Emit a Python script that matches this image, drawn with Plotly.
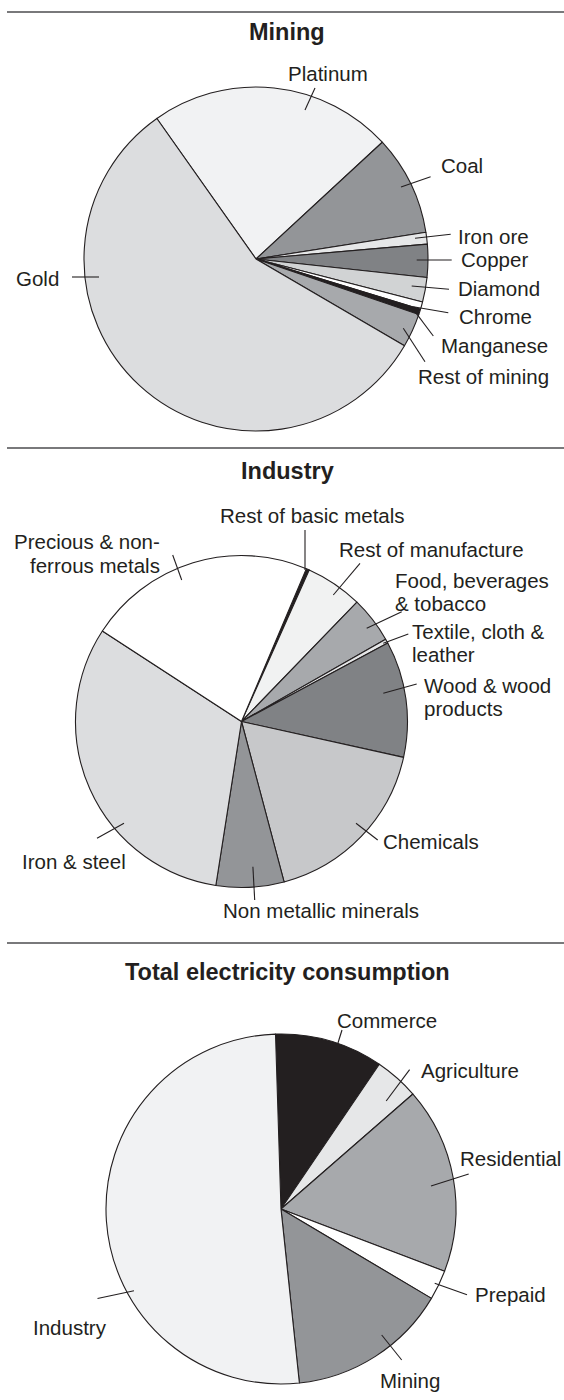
import plotly.graph_objects as go

W, H = 564, 1400

# ---------------- data ----------------
titles = ["Mining", "Industry", "Total electricity consumption"]

mining_labels = ["Platinum", "Coal", "Iron ore", "Copper", "Diamond", "Chrome",
                 "Manganese", "Rest of mining", "Gold"]
mining_values = [22.9, 9.4, 1.1, 3.1, 2.3, 0.7, 0.5, 3.2, 56.8]

industry_labels = ["Rest of basic metals", "Rest of manufacture",
                   "Food, beverages & tobacco", "Textile, cloth & leather",
                   "Wood & wood products", "Chemicals", "Non metallic minerals",
                   "Iron & steel", "Precious & non-ferrous metals"]
industry_values = [0.3, 5.55, 4.5, 0.42, 11.3, 17.4, 6.6, 31.7, 22.2]

elec_labels = ["Commerce", "Agriculture", "Residential", "Prepaid", "Mining", "Industry"]
elec_values = [10.0, 4.1, 17.2, 2.75, 14.8, 51.2]

# ---------------- styles / layout ----------------
mining_colors = ["#f1f2f3", "#939598", "#e6e7e8", "#808285", "#d1d3d4", "#ffffff",
                 "#231f20", "#a7a9ac", "#dcdddf"]
industry_colors = ["#231f20", "#f1f2f2", "#a7a9ac", "#e6e7e8", "#808285", "#c7c8ca",
                   "#939598", "#dcdddf", "#ffffff"]
elec_colors = ["#231f20", "#e6e7e8", "#a7a9ac", "#ffffff", "#939598", "#f1f2f3"]

# pie geometry in pixels: centre x, centre y, radius, start rotation
PIES = [
    dict(labels=mining_labels, values=mining_values, colors=mining_colors,
         cx=256, cy=259, r=172, rot=-35.2),
    dict(labels=industry_labels, values=industry_values, colors=industry_colors,
         cx=241.5, cy=721.5, r=166, rot=23.0),
    dict(labels=elec_labels, values=elec_values, colors=elec_colors,
         cx=281, cy=1209, r=175, rot=-1.8),
]

TITLE_POS = [(287, 32), (287, 471), (287, 972)]
SEPARATORS_Y = [12, 448, 943]

# label text placement (px) and leader line (px)
LABELS = {
    "Platinum": dict(lines=["Platinum"], x=328, y=73, anchor="center", lead=(315, 88, 305, 110)),
    "Coal": dict(lines=["Coal"], x=439, y=166, anchor="left", lead=(430.6, 176.7, 401, 187)),
    "Iron ore": dict(lines=["Iron ore"], x=456, y=236, anchor="left", lead=(450.7, 234.3, 415, 238.3)),
    "Copper": dict(lines=["Copper"], x=459, y=259, anchor="left", lead=(451.7, 260, 416.7, 260)),
    "Diamond": dict(lines=["Diamond"], x=456, y=288, anchor="left", lead=(449, 289.3, 411.7, 286)),
    "Chrome": dict(lines=["Chrome"], x=457, y=316, anchor="left", lead=(448.3, 312.7, 413.3, 306.7)),
    "Manganese": dict(lines=["Manganese"], x=439, y=346, anchor="left", lead=(433.3, 336, 415, 311.7)),
    "Rest of mining": dict(lines=["Rest of mining"], x=416, y=376, anchor="left", lead=(425, 361.7, 403.3, 328.3)),
    "Gold": dict(lines=["Gold"], x=61, y=278, anchor="right", lead=(72, 277, 99, 277)),
}
LABELS_IND = {
    "Rest of basic metals": dict(lines=["Rest of basic metals"], x=312.6, y=515, anchor="center", lead=(305, 530, 305, 570)),
    "Precious & non-ferrous metals": dict(lines=["Precious & non-", "ferrous metals"], x=162, y=541.7, anchor="right", lead=(172.7, 555, 181.7, 580)),
    "Rest of manufacture": dict(lines=["Rest of manufacture"], x=337, y=549, anchor="left", lead=(360, 563.3, 333.3, 595)),
    "Food, beverages & tobacco": dict(lines=["Food, beverages", "& tobacco"], x=393, y=580, anchor="left", lead=(401.7, 611.7, 366.7, 628.3)),
    "Textile, cloth & leather": dict(lines=["Textile, cloth &", "leather"], x=410, y=631, anchor="left", lead=(408.3, 634, 383.3, 643.3)),
    "Wood & wood products": dict(lines=["Wood & wood", "products"], x=422, y=685, anchor="left", lead=(416.7, 684, 383.3, 693.3)),
    "Chemicals": dict(lines=["Chemicals"], x=380.6, y=841.7, anchor="left", lead=(377.7, 840, 356, 823.3)),
    "Non metallic minerals": dict(lines=["Non metallic minerals"], x=221, y=910.7, anchor="left", lead=(254.7, 900, 252.9, 866.7)),
    "Iron & steel": dict(lines=["Iron & steel"], x=19.8, y=861.7, anchor="left", lead=(97, 838.3, 124, 823.3)),
}
LABELS_ELEC = {
    "Commerce": dict(lines=["Commerce"], x=335, y=1020.6, anchor="left", lead=(342, 1030, 337.8, 1043.5)),
    "Agriculture": dict(lines=["Agriculture"], x=418.5, y=1070.4, anchor="left", lead=(409.6, 1069.6, 386.2, 1101)),
    "Residential": dict(lines=["Residential"], x=458, y=1158.6, anchor="left", lead=(468.7, 1173.9, 431, 1186.1)),
    "Prepaid": dict(lines=["Prepaid"], x=473.4, y=1294.7, anchor="left", lead=(467, 1294.7, 434.7, 1283.2)),
    "Mining": dict(lines=["Mining"], x=378, y=1380, anchor="left", lead=(401.7, 1360, 381.7, 1335)),
    "Industry": dict(lines=["Industry"], x=31, y=1327, anchor="left", lead=(97.5, 1298.5, 134, 1290.8)),
}
LABEL_SETS = [LABELS, LABELS_IND, LABELS_ELEC]

LABEL_FONT = dict(family="Liberation Sans, Arial, sans-serif", size=20.5, color="#231f20")
TITLE_FONT = dict(family="Liberation Sans, Arial, sans-serif", size=23.5, color="#231f20")
LINE_SPACING = 23.3
EDGE = "#231f20"


def px(x):
    return x / W


def py(y):
    return 1 - y / H


fig = go.Figure()

for p in PIES:
    fig.add_trace(go.Pie(
        labels=p["labels"], values=p["values"], sort=False,
        direction="clockwise", rotation=p["rot"],
        marker=dict(colors=p["colors"], line=dict(color=EDGE, width=1.1)),
        textinfo="none", textposition="none", hoverinfo="label+percent",
        domain=dict(x=[px(p["cx"] - p["r"]), px(p["cx"] + p["r"])],
                    y=[py(p["cy"] + p["r"]), py(p["cy"] - p["r"])]),
        showlegend=False,
    ))

shapes = []
annotations = []

for y in SEPARATORS_Y:
    shapes.append(dict(type="line", xref="paper", yref="paper",
                       x0=px(7), x1=px(W), y0=py(y), y1=py(y),
                       line=dict(color="#4d4d4f", width=1.6)))

for t, (tx, ty) in zip(titles, TITLE_POS):
    annotations.append(dict(text="<b>" + t + "</b>", x=px(tx), y=py(ty),
                            xref="paper", yref="paper", showarrow=False,
                            xanchor="center", yanchor="middle", font=TITLE_FONT))

for pie, labset in zip(PIES, LABEL_SETS):
    for name in pie["labels"]:
        cfg = labset[name]
        for i, line in enumerate(cfg["lines"]):
            annotations.append(dict(text=line, x=px(cfg["x"]), y=py(cfg["y"] + i * LINE_SPACING),
                                    xref="paper", yref="paper", showarrow=False,
                                    xanchor=cfg["anchor"], yanchor="middle", font=LABEL_FONT))
        x0, y0, x1, y1 = cfg["lead"]
        shapes.append(dict(type="line", xref="paper", yref="paper",
                           x0=px(x0), y0=py(y0), x1=px(x1), y1=py(y1),
                           line=dict(color=EDGE, width=1.1)))

fig.update_layout(
    width=W, height=H,
    margin=dict(l=0, r=0, t=0, b=0, pad=0),
    paper_bgcolor="white", plot_bgcolor="white",
    shapes=shapes, annotations=annotations,
    showlegend=False,
)

fig.write_html(
    "out.html",
    config={"displayModeBar": False},
    post_script="document.body.style.margin='0';document.body.style.overflow='hidden';",
)
